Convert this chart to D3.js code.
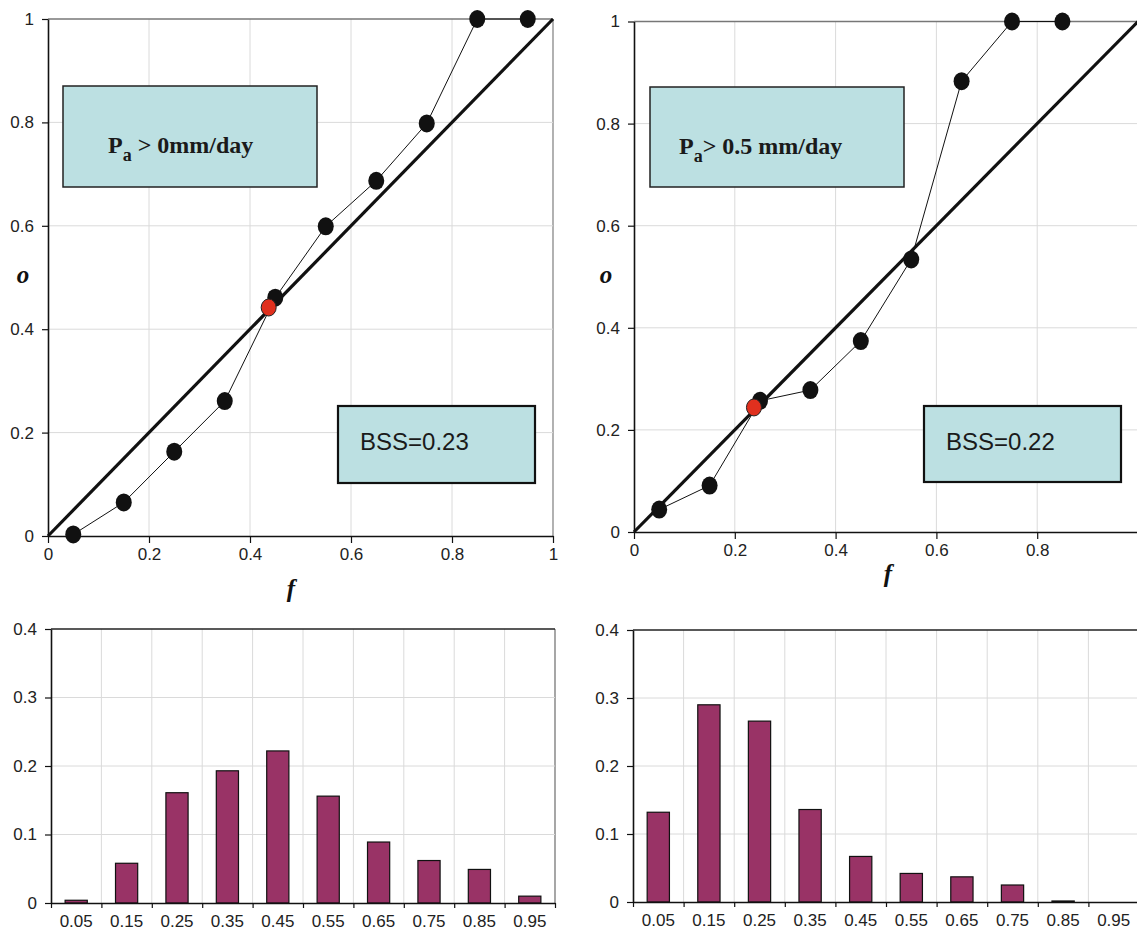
<!DOCTYPE html>
<html>
<head>
<meta charset="utf-8">
<script src="https://cdn.jsdelivr.net/npm/d3@7"></script>
<style>
  body { margin: 0; background: #fff; }
</style>
</head>
<body>
<script>
// forecast probability bins
var binCenters = [0.05, 0.15, 0.25, 0.35, 0.45, 0.55, 0.65, 0.75, 0.85, 0.95];
var binLabels = ["0.05", "0.15", "0.25", "0.35", "0.45", "0.55", "0.65", "0.75", "0.85", "0.95"];

// observed frequency per bin (reliability curves)
var obsFreq1 = [0.003, 0.065, 0.163, 0.261, 0.461, 0.599, 0.687, 0.798, 1.0, 1.0];
var obsFreq2 = [0.044, 0.091, 0.257, 0.278, 0.374, 0.534, 0.883, 1.0, 1.0];

// climatology point (f, o)
var climPoint1 = [0.437, 0.442];
var climPoint2 = [0.238, 0.244];

// sharpness histograms (relative frequency of forecasts)
var sharp1 = [0.004, 0.058, 0.161, 0.193, 0.222, 0.156, 0.089, 0.062, 0.049, 0.010];
var sharp2 = [0.132, 0.290, 0.266, 0.136, 0.067, 0.042, 0.037, 0.025, 0.0015, 0];

var relTicks = [0, 0.2, 0.4, 0.6, 0.8, 1];
var relTicksRight = [0, 0.2, 0.4, 0.6, 0.8];
var barTicks = [0, 0.1, 0.2, 0.3, 0.4];

var width = 1137, height = 933;

var svg = d3.select("body")
  .append("svg")
  .attr("width", width)
  .attr("height", height);

var fmt = d3.format("~g");

function styleAxis(g) {
  g.attr("font-size", null).attr("font-family", null);
  g.select(".domain").attr("stroke", "#111").attr("stroke-width", 1.6);
  g.selectAll(".tick line").attr("stroke", "#111").attr("stroke-width", 1.2);
  g.selectAll(".tick text")
    .style("font-family", "'Liberation Sans', Arial, sans-serif")
    .style("font-size", "17px")
    .attr("fill", "#222");
}

function reliabilityPanel(cfg) {
  var x = d3.scaleLinear().domain([0, 1]).range([cfg.left, cfg.right]);
  var y = d3.scaleLinear().domain([0, 1]).range([cfg.bottom, cfg.top]);
  var g = svg.append("g");

  // grid
  g.selectAll(".vgrid")
    .data(relTicks.slice(1))
    .enter().append("line")
    .attr("x1", d => x(d)).attr("x2", d => x(d))
    .attr("y1", y(0)).attr("y2", y(1))
    .attr("stroke", d => d === 1 ? "#888" : "#dadada")
    .attr("stroke-width", d => d === 1 ? 1.3 : 1);
  g.selectAll(".hgrid")
    .data(relTicks.slice(1))
    .enter().append("line")
    .attr("x1", x(0)).attr("x2", x(1))
    .attr("y1", d => y(d)).attr("y2", d => y(d))
    .attr("stroke", d => d === 1 ? "#777" : "#dadada")
    .attr("stroke-width", d => d === 1 ? 1.5 : 1);

  // label boxes
  var lb = g.append("g");
  lb.append("rect")
    .attr("x", cfg.labelBox[0]).attr("y", cfg.labelBox[1])
    .attr("width", cfg.labelBox[2]).attr("height", cfg.labelBox[3])
    .attr("fill", "#bce0e2").attr("stroke", "#222").attr("stroke-width", 1.5);
  var t = lb.append("text")
    .attr("x", cfg.labelBox[0] + cfg.labelDx)
    .attr("y", cfg.labelBox[1] + 67)
    .attr("font-family", "'Liberation Serif', 'Times New Roman', serif")
    .attr("font-weight", "bold")
    .attr("font-size", 24)
    .attr("fill", "#1a1a1a");
  t.append("tspan").text("P");
  t.append("tspan").attr("dy", 8).attr("font-size", 18).text("a");
  t.append("tspan").attr("dy", -8).text(cfg.labelRest);

  g.append("rect")
    .attr("x", cfg.bssBox[0]).attr("y", cfg.bssBox[1])
    .attr("width", cfg.bssBox[2]).attr("height", cfg.bssBox[3])
    .attr("fill", "#bce0e2").attr("stroke", "#111").attr("stroke-width", 2.2);
  g.append("text")
    .attr("x", cfg.bssBox[0] + 22)
    .attr("y", cfg.bssBox[1] + 44)
    .attr("font-family", "'Liberation Sans', Arial, sans-serif")
    .attr("font-size", 24)
    .attr("fill", "#1a1a1a")
    .text(cfg.bss);

  // axes
  var xa = g.append("g")
    .attr("transform", "translate(0," + cfg.bottom + ")")
    .call(d3.axisBottom(x).tickValues(cfg.xTicks).tickFormat(fmt).tickSize(7).tickSizeOuter(0).tickPadding(5));
  styleAxis(xa);
  var ya = g.append("g")
    .attr("transform", "translate(" + cfg.left + ",0)")
    .call(d3.axisLeft(y).tickValues(relTicks).tickFormat(fmt).tickSize(6).tickSizeOuter(0).tickPadding(8));
  styleAxis(ya);

  // perfect reliability diagonal
  g.append("line")
    .attr("x1", x(0)).attr("y1", y(0))
    .attr("x2", x(1)).attr("y2", y(1))
    .attr("stroke", "#111").attr("stroke-width", 3.2);

  var pts = cfg.obs.map((o, i) => [binCenters[i], o]);
  g.append("path")
    .datum(pts)
    .attr("fill", "none")
    .attr("stroke", "#111")
    .attr("stroke-width", 1)
    .attr("d", d3.line().x(d => x(d[0])).y(d => y(d[1])));

  g.selectAll(".pt")
    .data(pts)
    .enter().append("ellipse")
    .attr("cx", d => x(d[0])).attr("cy", d => y(d[1]))
    .attr("rx", 8).attr("ry", 9)
    .attr("fill", "#111");

  g.append("ellipse")
    .attr("cx", x(cfg.clim[0])).attr("cy", y(cfg.clim[1]))
    .attr("rx", 7.5).attr("ry", 8.5)
    .attr("fill", "#e0301e").attr("stroke", "#222").attr("stroke-width", 1);

  // axis titles
  g.append("text")
    .attr("x", cfg.oPos[0]).attr("y", cfg.oPos[1])
    .attr("font-family", "'Liberation Serif', 'Times New Roman', serif")
    .attr("font-style", "italic").attr("font-weight", "bold")
    .attr("font-size", 25).attr("text-anchor", "middle")
    .attr("fill", "#111")
    .text("o");
  g.append("text")
    .attr("x", cfg.fPos[0]).attr("y", cfg.fPos[1])
    .attr("font-family", "'Liberation Serif', 'Times New Roman', serif")
    .attr("font-style", "italic").attr("font-weight", "bold")
    .attr("font-size", 25).attr("text-anchor", "middle")
    .attr("fill", "#111")
    .text("f");
}

function sharpnessPanel(cfg) {
  var xb = d3.scaleBand().domain(binLabels).range([cfg.left, cfg.right])
    .paddingInner(0.56).paddingOuter(0.28);
  var xe = d3.scaleLinear().domain([0, binLabels.length]).range([cfg.left, cfg.right]);
  var y = d3.scaleLinear().domain([0, 0.4]).range([cfg.bottom, cfg.top]);
  var edges = d3.range(1, binLabels.length + 1);
  var g = svg.append("g");

  g.selectAll(".vgrid")
    .data(edges)
    .enter().append("line")
    .attr("x1", d => xe(d)).attr("x2", d => xe(d))
    .attr("y1", y(0)).attr("y2", y(0.4))
    .attr("stroke", d => d === binLabels.length ? "#777" : "#dadada")
    .attr("stroke-width", d => d === binLabels.length ? 1.3 : 1);
  g.selectAll(".hgrid")
    .data(barTicks.slice(1))
    .enter().append("line")
    .attr("x1", xe(0)).attr("x2", xe(binLabels.length))
    .attr("y1", d => y(d)).attr("y2", d => y(d))
    .attr("stroke", d => d === 0.4 ? "#222" : "#dadada")
    .attr("stroke-width", d => d === 0.4 ? 1.5 : 1);

  g.selectAll(".bar")
    .data(cfg.values)
    .enter().append("rect")
    .attr("x", (d, i) => xb(binLabels[i]))
    .attr("y", d => y(d))
    .attr("width", xb.bandwidth())
    .attr("height", d => y(0) - y(d))
    .attr("fill", "#993366")
    .attr("stroke", "#111")
    .attr("stroke-width", d => d > 0 ? 1.2 : 0);

  var xt = g.append("g")
    .attr("transform", "translate(0," + cfg.bottom + ")")
    .call(d3.axisBottom(xe).tickValues(d3.range(0, binLabels.length + 1)).tickFormat("").tickSize(5).tickSizeOuter(0));
  styleAxis(xt);
  var xl = g.append("g")
    .attr("transform", "translate(0," + cfg.bottom + ")")
    .call(d3.axisBottom(xb).tickSize(0).tickPadding(12));
  xl.select(".domain").remove();
  styleAxis(xl);

  var ya = g.append("g")
    .attr("transform", "translate(" + cfg.left + ",0)")
    .call(d3.axisLeft(y).tickValues(barTicks).tickFormat(fmt).tickSize(6).tickSizeOuter(0).tickPadding(8));
  styleAxis(ya);
}

reliabilityPanel({
  left: 48, right: 553, top: 19, bottom: 536,
  obs: obsFreq1, clim: climPoint1, xTicks: relTicks,
  labelBox: [63, 86, 254, 101], labelDx: 45, labelRest: " > 0mm/day",
  bssBox: [338, 406, 197, 77], bss: "BSS=0.23",
  oPos: [23, 283], fPos: [291, 597]
});

reliabilityPanel({
  left: 634, right: 1138, top: 21.5, bottom: 532,
  obs: obsFreq2, clim: climPoint2, xTicks: relTicksRight,
  labelBox: [650, 87, 254, 100], labelDx: 29, labelRest: "> 0.5 mm/day",
  bssBox: [924, 406, 197, 76], bss: "BSS=0.22",
  oPos: [606, 283], fPos: [888, 582]
});

sharpnessPanel({ left: 51, right: 555, top: 629, bottom: 903, values: sharp1 });
sharpnessPanel({ left: 633, right: 1139, top: 630, bottom: 902, values: sharp2 });
</script>
</body>
</html>
